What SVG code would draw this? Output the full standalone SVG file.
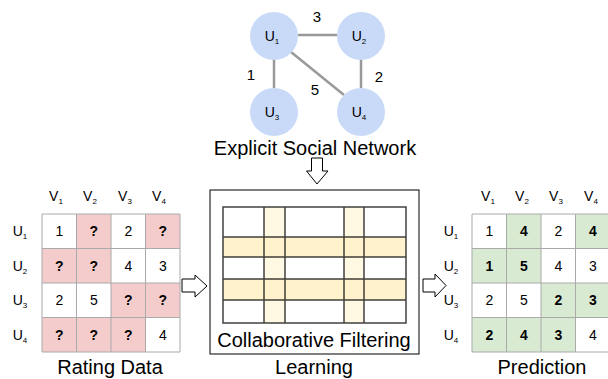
<svg xmlns="http://www.w3.org/2000/svg" width="608" height="379" viewBox="0 0 608 379">
<style>
text{font-family:"Liberation Sans",Arial,sans-serif;fill:#000}
.lbl{font-size:14px;text-anchor:middle}
.elbl{font-size:15px;text-anchor:middle}
.big{font-size:20px;text-anchor:middle}
.cell{font-size:14px;text-anchor:middle}
.b{font-weight:bold}
.node{fill:#c9daf8}
.edge{stroke:#999;stroke-width:2.5}
.grid{fill:none;stroke:#aaa;stroke-width:1}
.pink{fill:#f4cccc}
.green{fill:#d9ead3}
.arrow{fill:#fff;stroke:#000;stroke-width:1}
.sub{font-size:8px}
</style>
<rect width="608" height="379" fill="#fff"/>
<g id="connectors">
<line class="edge" x1="298" y1="35" x2="337" y2="35"/>
<line class="edge" x1="274" y1="59" x2="274" y2="88"/>
<line class="edge" x1="361" y1="59" x2="361" y2="88"/>
<line class="edge" x1="291" y1="52" x2="344" y2="95"/>
<text class="elbl" x="317" y="22">3</text>
<text class="elbl" x="251" y="80">1</text>
<text class="elbl" x="315" y="95">5</text>
<text class="elbl" x="379" y="82">2</text>
</g>
<g id="u1"><circle class="node" cx="274" cy="36" r="24"/><text class="lbl" x="272" y="41">U<tspan class="sub" dy="3">1</tspan></text></g>
<g id="u2"><circle class="node" cx="361" cy="36" r="24"/><text class="lbl" x="359" y="41">U<tspan class="sub" dy="3">2</tspan></text></g>
<g id="u3"><circle class="node" cx="274" cy="112" r="24"/><text class="lbl" x="272" y="117">U<tspan class="sub" dy="3">3</tspan></text></g>
<g id="u4"><circle class="node" cx="361" cy="112" r="24"/><text class="lbl" x="359" y="117">U<tspan class="sub" dy="3">4</tspan></text></g>
<text class="big" x="315" y="155">Explicit Social Network</text>

<g id="arrow-down"><path class="arrow" d="M311.5,158 H322.5 V171 H328 L317,184 L306.5,171 H311.5 Z"/></g>

<g id="rating">
<rect class="pink" x="76.5" y="214" width="34.5" height="34.5"/>
<rect class="pink" x="145.5" y="214" width="34.5" height="34.5"/>
<rect class="pink" x="42" y="248.5" width="69" height="34.5"/>
<rect class="pink" x="111" y="283" width="69" height="34.5"/>
<rect class="pink" x="42" y="317.5" width="103.5" height="34.5"/>
<path class="grid" d="M42,214 H180 M42,248.5 H180 M42,283 H180 M42,317.5 H180 M42,352 H180 M42,214 V352 M76.5,214 V352 M111,214 V352 M145.5,214 V352 M180,214 V352"/>
<text class="lbl" x="56" y="201">V<tspan class="sub" dy="3">1</tspan></text>
<text class="lbl" x="90" y="201">V<tspan class="sub" dy="3">2</tspan></text>
<text class="lbl" x="125" y="201">V<tspan class="sub" dy="3">3</tspan></text>
<text class="lbl" x="159" y="201">V<tspan class="sub" dy="3">4</tspan></text>
<text class="lbl" x="20" y="236">U<tspan class="sub" dy="3">1</tspan></text>
<text class="lbl" x="20" y="271">U<tspan class="sub" dy="3">2</tspan></text>
<text class="lbl" x="20" y="305">U<tspan class="sub" dy="3">3</tspan></text>
<text class="lbl" x="20" y="340">U<tspan class="sub" dy="3">4</tspan></text>
<text class="cell" x="59.3" y="236">1</text><text class="cell b" x="93.8" y="236">?</text><text class="cell" x="128.3" y="236">2</text><text class="cell b" x="162.8" y="236">?</text>
<text class="cell b" x="59.3" y="270.5">?</text><text class="cell b" x="93.8" y="270.5">?</text><text class="cell" x="128.3" y="270.5">4</text><text class="cell" x="162.8" y="270.5">3</text>
<text class="cell" x="59.3" y="305">2</text><text class="cell" x="93.8" y="305">5</text><text class="cell b" x="128.3" y="305">?</text><text class="cell b" x="162.8" y="305">?</text>
<text class="cell b" x="59.3" y="339.5">?</text><text class="cell b" x="93.8" y="339.5">?</text><text class="cell b" x="128.3" y="339.5">?</text><text class="cell" x="162.8" y="339.5">4</text>
<text class="big" x="110" y="374">Rating Data</text>
</g>

<g id="arrow-left"><path class="arrow" d="M182,279 H195 V275 L207,286 L195,297 V292 H182 Z"/></g>

<g id="learning">
<rect x="210" y="190" width="209" height="164" fill="#fff" stroke="#000" stroke-width="1"/>
<rect x="223" y="237" width="183" height="20" fill="#fff2cc"/>
<rect x="223" y="279" width="183" height="21" fill="#fff2cc"/>
<rect x="264" y="207" width="21" height="116" fill="#fff2cc" fill-opacity="0.55"/>
<rect x="344" y="207" width="20" height="116" fill="#fff2cc" fill-opacity="0.55"/>
<path d="M223,207 H406 V323 H223 Z M223,237 H406 M223,257 H406 M223,279 H406 M223,300 H406 M264,207 V323 M285,207 V323 M344,207 V323 M364,207 V323" fill="none" stroke="#000" stroke-opacity="0.75" stroke-width="1.5"/>
<text class="big" x="314" y="347">Collaborative Filtering</text>
<text class="big" x="314" y="374">Learning</text>
</g>

<g id="arrow-right"><path class="arrow" d="M423,279 H435 V274 L446,285.5 L435,297 V292 H423 Z"/></g>

<g id="prediction">
<rect class="green" x="506.5" y="214" width="34.5" height="34.5"/>
<rect class="green" x="575.5" y="214" width="34.5" height="34.5"/>
<rect class="green" x="472" y="248.5" width="69" height="34.5"/>
<rect class="green" x="541" y="283" width="69" height="34.5"/>
<rect class="green" x="472" y="317.5" width="103.5" height="34.5"/>
<path class="grid" d="M472,214 H610 M472,248.5 H610 M472,283 H610 M472,317.5 H610 M472,352 H610 M472,214 V352 M506.5,214 V352 M541,214 V352 M575.5,214 V352"/>
<text class="lbl" x="488" y="201">V<tspan class="sub" dy="3">1</tspan></text>
<text class="lbl" x="522" y="201">V<tspan class="sub" dy="3">2</tspan></text>
<text class="lbl" x="556" y="201">V<tspan class="sub" dy="3">3</tspan></text>
<text class="lbl" x="591" y="201">V<tspan class="sub" dy="3">4</tspan></text>
<text class="lbl" x="451" y="236">U<tspan class="sub" dy="3">1</tspan></text>
<text class="lbl" x="451" y="271">U<tspan class="sub" dy="3">2</tspan></text>
<text class="lbl" x="451" y="305">U<tspan class="sub" dy="3">3</tspan></text>
<text class="lbl" x="451" y="340">U<tspan class="sub" dy="3">4</tspan></text>
<text class="cell" x="489.3" y="236">1</text><text class="cell b" x="523.8" y="236">4</text><text class="cell" x="558.3" y="236">2</text><text class="cell b" x="592.8" y="236">4</text>
<text class="cell b" x="489.3" y="270.5">1</text><text class="cell b" x="523.8" y="270.5">5</text><text class="cell" x="558.3" y="270.5">4</text><text class="cell" x="592.8" y="270.5">3</text>
<text class="cell" x="489.3" y="305">2</text><text class="cell" x="523.8" y="305">5</text><text class="cell b" x="558.3" y="305">2</text><text class="cell b" x="592.8" y="305">3</text>
<text class="cell b" x="489.3" y="339.5">2</text><text class="cell b" x="523.8" y="339.5">4</text><text class="cell b" x="558.3" y="339.5">3</text><text class="cell" x="592.8" y="339.5">4</text>
<text class="big" x="542" y="374">Prediction</text>
</g>
</svg>
